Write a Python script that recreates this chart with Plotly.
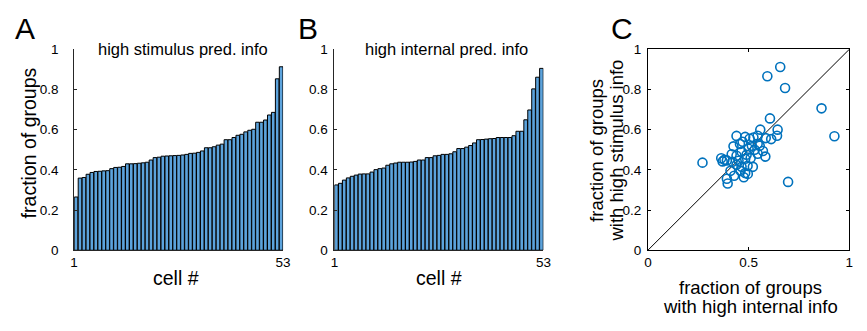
import plotly.graph_objects as go

# ---- data ----
stim_frac = [0.265, 0.359, 0.362, 0.378, 0.387, 0.392, 0.393, 0.395, 0.396, 0.406,
             0.412, 0.413, 0.417, 0.430, 0.430, 0.431, 0.433, 0.435, 0.438, 0.449,
             0.461, 0.463, 0.468, 0.469, 0.470, 0.471, 0.472, 0.474, 0.477, 0.482,
             0.483, 0.487, 0.494, 0.510, 0.510, 0.515, 0.523, 0.528, 0.550, 0.550,
             0.561, 0.572, 0.577, 0.589, 0.597, 0.602, 0.637, 0.637, 0.648, 0.673,
             0.686, 0.853, 0.913]
int_frac = [0.325, 0.333, 0.349, 0.360, 0.368, 0.374, 0.379, 0.380, 0.380, 0.389,
            0.401, 0.406, 0.409, 0.423, 0.430, 0.434, 0.438, 0.438, 0.438, 0.439,
            0.442, 0.449, 0.449, 0.461, 0.461, 0.470, 0.472, 0.477, 0.477, 0.480,
            0.490, 0.506, 0.506, 0.513, 0.521, 0.534, 0.550, 0.551, 0.553, 0.555,
            0.556, 0.561, 0.561, 0.561, 0.561, 0.570, 0.592, 0.592, 0.649, 0.698,
            0.803, 0.861, 0.905]
cells = list(range(1, len(stim_frac) + 1))

scatter_internal = [0.271, 0.657, 0.593, 0.681, 0.862, 0.926, 0.696, 0.606, 0.558, 0.644,
                    0.641, 0.612, 0.585, 0.571, 0.583, 0.440, 0.483, 0.524, 0.545, 0.516,
                    0.425, 0.457, 0.364, 0.371, 0.392, 0.416, 0.440, 0.465, 0.483, 0.510,
                    0.440, 0.465, 0.495, 0.521, 0.392, 0.396, 0.428, 0.476, 0.483, 0.410,
                    0.496, 0.545, 0.500, 0.470, 0.530, 0.380, 0.450, 0.505, 0.555, 0.420,
                    0.460, 0.490, 0.545]
scatter_stimulus = [0.436, 0.912, 0.866, 0.807, 0.706, 0.567, 0.340, 0.656, 0.600, 0.600,
                    0.570, 0.553, 0.558, 0.494, 0.466, 0.569, 0.564, 0.561, 0.530, 0.520,
                    0.517, 0.529, 0.458, 0.442, 0.447, 0.478, 0.470, 0.490, 0.455, 0.458,
                    0.425, 0.415, 0.420, 0.415, 0.356, 0.332, 0.371, 0.363, 0.384, 0.395,
                    0.380, 0.570, 0.505, 0.540, 0.500, 0.450, 0.445, 0.555, 0.520, 0.440,
                    0.395, 0.475, 0.480]

frac_ticks = [0, 0.2, 0.4, 0.6, 0.8, 1]
frac_ticktext = ["0", "0.2", "0.4", "0.6", "0.8", "1"]
c_xticks = [0, 0.5, 1]
c_xticktext = ["0", "0.5", "1"]

# page is 867x331; the html body has an 8px margin, so the figure is 16px smaller
PAGE_W, PAGE_H = 867, 331
OFF = 8
W, H = PAGE_W - 2 * OFF, PAGE_H - 2 * OFF
FONT = "Liberation Sans, Arial, sans-serif"
BAR_COLOR = "rgb(92,163,220)"
SCAT_COLOR = "#0072BD"
AXC = "#262626"
TICK_SIZE = 13.5


def fx(px):
    return (px - OFF) / W


def fy(py):
    return 1 - (py - OFF) / H


fig = go.Figure()
fig.add_trace(go.Bar(x=cells, y=stim_frac, marker=dict(color=BAR_COLOR, line=dict(color="black", width=1)),
                     xaxis="x", yaxis="y", showlegend=False))
fig.add_trace(go.Bar(x=cells, y=int_frac, marker=dict(color=BAR_COLOR, line=dict(color="black", width=1)),
                     xaxis="x2", yaxis="y2", showlegend=False))
fig.add_trace(go.Scatter(x=[0, 1], y=[0, 1], mode="lines", line=dict(color="black", width=1),
                         xaxis="x3", yaxis="y3", showlegend=False, hoverinfo="skip"))
fig.add_trace(go.Scatter(x=scatter_internal, y=scatter_stimulus, mode="markers",
                         marker=dict(symbol="circle-open", size=9, color=SCAT_COLOR,
                                     line=dict(width=1.6, color=SCAT_COLOR)),
                         xaxis="x3", yaxis="y3", showlegend=False))

ydom = [fy(255), fy(44)]
n = len(cells)
tf = dict(size=TICK_SIZE, color="black", family=FONT)
bar_x = dict(range=[0.5, n + 0.5], tickvals=[0.5, n + 0.5], ticktext=["1", str(n)], ticks="",
             showline=True, linecolor=AXC, linewidth=1, showgrid=False, zeroline=False, tickfont=tf)
bar_y = dict(range=[0, 1], tickvals=frac_ticks, ticktext=frac_ticktext, ticks="inside", ticklen=3,
             tickcolor=AXC, showline=True, linecolor=AXC, linewidth=1, showgrid=False, zeroline=False,
             tickfont=tf)

fig.update_layout(
    width=W, height=H, margin=dict(l=0, r=0, t=0, b=0),
    paper_bgcolor="white", plot_bgcolor="white",
    font=dict(family=FONT, color="black"),
    bargap=0.08,
    xaxis=dict(domain=[fx(71), fx(283)], anchor="y", **bar_x),
    yaxis=dict(domain=ydom, anchor="x", ticklabelstandoff=12, **bar_y),
    xaxis2=dict(domain=[fx(335), fx(547)], anchor="y2", **bar_x),
    yaxis2=dict(domain=ydom, anchor="x2", ticklabelstandoff=3, **bar_y),
    xaxis3=dict(domain=[fx(653), 0.998], anchor="y3", range=[0, 1], tickvals=c_xticks, ticktext=c_xticktext,
                ticks="inside", ticklen=3, tickcolor="black", showline=True, mirror="ticks", linecolor="black",
                linewidth=1, showgrid=False, zeroline=False, tickfont=tf),
    yaxis3=dict(domain=ydom, anchor="x3", range=[0, 1], tickvals=frac_ticks, ticktext=frac_ticktext,
                ticks="inside", ticklen=3, tickcolor="black", showline=True, mirror="ticks", linecolor="black",
                linewidth=1, showgrid=False, zeroline=False, ticklabelstandoff=3, tickfont=tf),
)


def ann(text, px, py, size, angle=0):
    fig.add_annotation(text=text, x=fx(px), y=fy(py), xref="paper", yref="paper",
                       xanchor="center", yanchor="middle", showarrow=False, textangle=angle,
                       font=dict(size=size, color="black", family=FONT))


ann("A", 21, 22, 30)
ann("B", 308, 22, 30)
ann("C", 627, 22, 30)
ann("high stimulus pred. info", 181, 44, 16.5)
ann("high internal pred. info", 449, 44, 16.5)
ann("cell #", 174, 284, 19.5)
ann("cell #", 441, 284, 19.5)
ann("fraction of groups", 25, 142, 19.5, -90)
ann("fraction of groups", 601, 150, 18.5, -90)
ann("with high stimulus info", 621, 150, 18.5, -90)
ann("fraction of groups", 757, 294, 18.5)
ann("with high internal info", 757, 314, 18.5)

fig.write_html("out.html")
